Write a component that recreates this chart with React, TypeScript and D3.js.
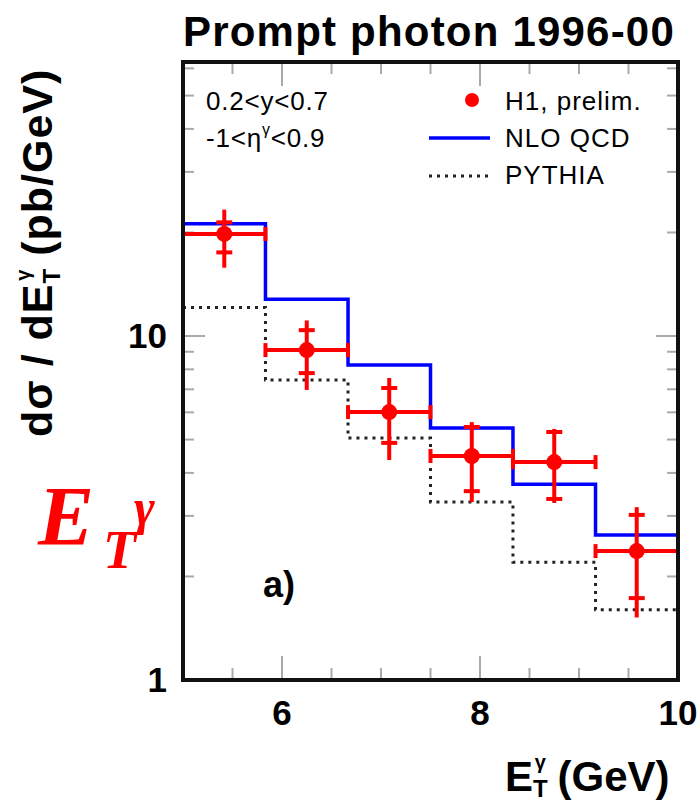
import React from 'react';
import * as d3 from 'd3';

// bin edges in E_T (GeV)
const binEdges = [5, 5.833, 6.667, 7.5, 8.333, 9.167, 10];

// theory predictions per bin (pb/GeV)
const nloQcd = [21.2, 12.8, 8.24, 5.4, 3.71, 2.64];
const pythia = [12.1, 7.45, 5.05, 3.29, 2.2, 1.6];

// H1 preliminary data
const h1Et = [5.417, 6.25, 7.083, 7.917, 8.75, 9.583];
const h1Value = [19.8, 9.1, 6.01, 4.48, 4.3, 2.37];
const h1StatHi = [21.4, 10.4, 7.06, 5.44, 5.26, 3.02];
const h1StatLo = [17.5, 7.8, 4.89, 3.54, 3.36, 1.73];
const h1TotHi = [23.3, 11.1, 7.55, 5.62, 5.37, 3.18];
const h1TotLo = [15.8, 6.97, 4.36, 3.29, 3.27, 1.52];

const xMajorTicks = [6, 8, 10];
const xMinorTicks = [5.5, 6, 6.5, 7, 7.5, 8, 8.5, 9, 9.5];
const yMajorTicks = [1, 10];
const yMinorTicks = [2, 3, 4, 5, 6, 7, 8, 9, 20, 30, 40, 50, 60];

const W = 698;
const H = 805;
const plot = { left: 183, right: 678, top: 62, bottom: 680 };

const x = d3.scaleLinear().domain([5, 10]).range([plot.left, plot.right]);
const y = d3.scaleLog().domain([1, 62.6]).range([plot.bottom, plot.top]);

const histPath = (vals: number[]) => {
  const pts: [number, number][] = vals.map((v, i) => [binEdges[i], v]);
  pts.push([binEdges[binEdges.length - 1], vals[vals.length - 1]]);
  return d3.line<[number, number]>()
    .x(d => x(d[0]))
    .y(d => y(d[1]))
    .curve(d3.curveStepAfter)(pts) || '';
};

const sans = 'Arial, "Liberation Sans", Helvetica, sans-serif';
const red = '#ff0000';

export default function App() {
  const tickCol = '#aaa';
  return (
    <svg width={W} height={H} style={{ position: 'absolute', left: 0, top: 0, background: '#fff' }}
      fontFamily={sans}>
      <rect width={W} height={H} fill="#fff" />

      {/* title */}
      <text x={183} y={46} fontSize={42} fontWeight="bold" letterSpacing={1.2}>Prompt photon 1996-00</text>

      <defs>
        <clipPath id="plotClip">
          <rect x={plot.left} y={plot.top} width={plot.right - plot.left} height={plot.bottom - plot.top} />
        </clipPath>
      </defs>

      {/* x ticks, bottom and top */}
      {xMinorTicks.map(t => {
        const len = xMajorTicks.includes(t) ? 24 : 12;
        return (
          <g key={'xt' + t} stroke={tickCol} strokeWidth={2}>
            <line x1={x(t)} x2={x(t)} y1={plot.bottom} y2={plot.bottom - len} />
            <line x1={x(t)} x2={x(t)} y1={plot.top} y2={plot.top + len} />
          </g>
        );
      })}
      {/* y ticks, left and right */}
      {yMajorTicks.concat(yMinorTicks).map(t => {
        const len = yMajorTicks.includes(t) ? 22 : 11;
        return (
          <g key={'yt' + t} stroke={tickCol} strokeWidth={2}>
            <line x1={plot.left} x2={plot.left + len} y1={y(t)} y2={y(t)} />
            <line x1={plot.right} x2={plot.right - len} y1={y(t)} y2={y(t)} />
          </g>
        );
      })}

      <g clipPath="url(#plotClip)">
        {/* PYTHIA */}
        <path d={histPath(pythia)} fill="none" stroke="#222" strokeWidth={3} strokeDasharray="3 5" />
        {/* NLO QCD */}
        <path d={histPath(nloQcd)} fill="none" stroke="#0000ff" strokeWidth={3.5} />

        {/* H1 data */}
        {h1Et.map((e, i) => {
          const cx = x(e);
          const cy = y(h1Value[i]);
          const xl = x(binEdges[i]);
          const xr = x(binEdges[i + 1]);
          return (
            <g key={'d' + i} stroke={red} strokeWidth={4}>
              <line x1={xl} x2={xr} y1={cy} y2={cy} />
              <line x1={xl} x2={xl} y1={cy - 7} y2={cy + 7} />
              <line x1={xr} x2={xr} y1={cy - 7} y2={cy + 7} />
              <line x1={cx} x2={cx} y1={y(h1TotHi[i])} y2={y(h1TotLo[i])} />
              <line x1={cx - 8} x2={cx + 8} y1={y(h1StatHi[i])} y2={y(h1StatHi[i])} />
              <line x1={cx - 8} x2={cx + 8} y1={y(h1StatLo[i])} y2={y(h1StatLo[i])} />
              <circle cx={cx} cy={cy} r={8} fill={red} stroke="none" />
            </g>
          );
        })}
      </g>

      {/* frame */}
      <rect x={plot.left} y={plot.top} width={plot.right - plot.left} height={plot.bottom - plot.top}
        fill="none" stroke="#111" strokeWidth={4} />

      {/* tick labels */}
      {xMajorTicks.map(t => (
        <text key={'xl' + t} x={x(t)} y={725} fontSize={35} fontWeight="bold" textAnchor="middle">{t}</text>
      ))}
      {yMajorTicks.map(t => (
        <text key={'yl' + t} x={167} y={y(t) + 12} fontSize={35} fontWeight="bold" textAnchor="end">{t}</text>
      ))}

      {/* axis titles */}
      <text x={505} y={791} fontSize={42} fontWeight="bold">
        E<tspan fontSize={24} dy={6}>T</tspan>
        <tspan fontSize={20} dx={-13} dy={-28}>γ</tspan>
        <tspan fontSize={42} dy={22}> (GeV)</tspan>
      </text>
      <text transform="translate(52,437) rotate(-90)" fontSize={43} fontWeight="bold" letterSpacing={1}>
        dσ / dE<tspan fontSize={24} dy={8}>T</tspan>
        <tspan fontSize={20} dx={-13} dy={-30}>γ</tspan>
        <tspan fontSize={43} dy={22}> (pb/GeV)</tspan>
      </text>

      {/* cuts */}
      <text x={206} y={110} fontSize={26} letterSpacing={0.8}>0.2&lt;y&lt;0.7</text>
      <text x={206} y={147} fontSize={26} letterSpacing={0.8}>
        -1&lt;η<tspan fontSize={16} dy={-12}>γ</tspan><tspan dy={12}>&lt;0.9</tspan>
      </text>

      {/* legend */}
      <circle cx={472} cy={100} r={7} fill={red} />
      <text x={505} y={110} fontSize={26} letterSpacing={1}>H1, prelim.</text>
      <line x1={429} x2={490} y1={138} y2={138} stroke="#0000ff" strokeWidth={3.5} />
      <text x={505} y={147} fontSize={26} letterSpacing={1}>NLO QCD</text>
      <line x1={429} x2={490} y1={176} y2={176} stroke="#222" strokeWidth={3} strokeDasharray="3 5" />
      <text x={505} y={184} fontSize={26} letterSpacing={1}>PYTHIA</text>

      {/* panel label */}
      <text x={263} y={597} fontSize={36} fontWeight="bold">a)</text>

      {/* red E_T^gamma */}
      <g fill={red} fontFamily='"Liberation Serif", "Times New Roman", serif' fontWeight="bold" fontStyle="italic">
        <text x={38} y={545} fontSize={84}>E</text>
        <text x={103} y={568} fontSize={54}>T</text>
        <text x={134} y={524} fontSize={50}>γ</text>
      </g>
    </svg>
  );
}
